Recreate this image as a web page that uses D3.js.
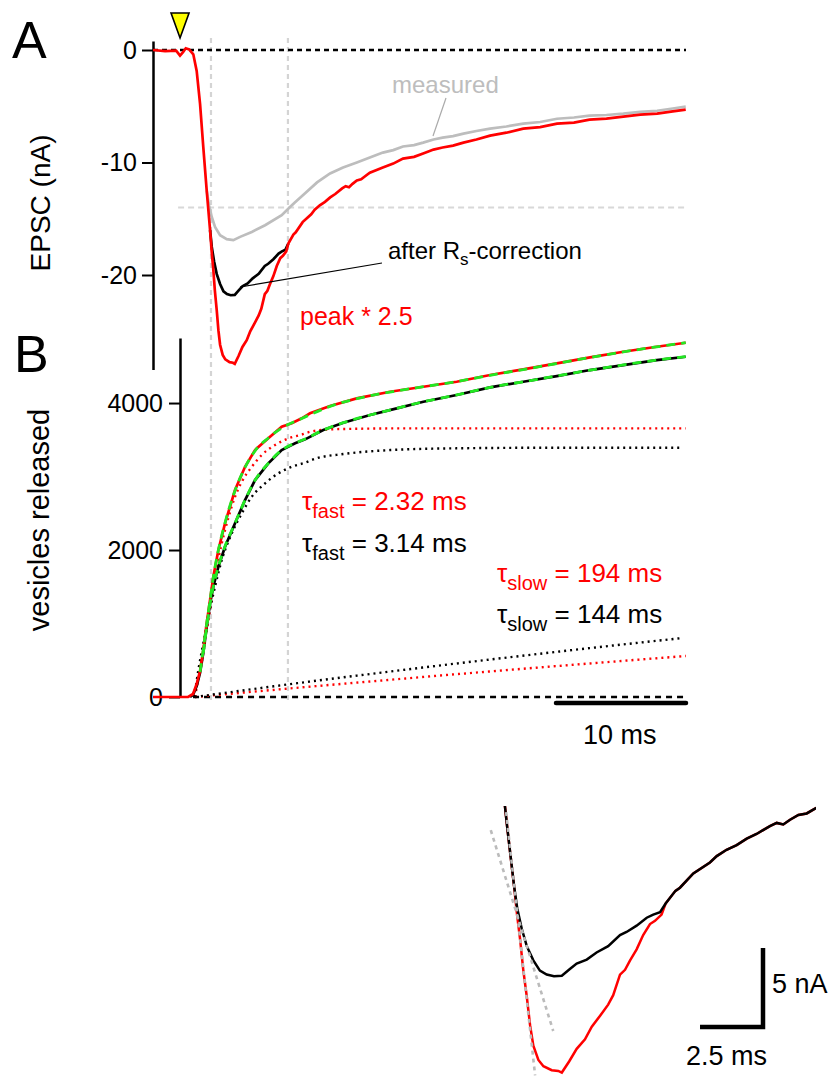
<!DOCTYPE html>
<html>
<head>
<meta charset="utf-8">
<script src="https://cdn.jsdelivr.net/npm/d3@7"></script>
<style>
  body { margin: 0; background: #fff; }
  svg text { font-family: "Liberation Sans", Arial, Helvetica, sans-serif; }
</style>
</head>
<body>
<svg id="fig" width="833" height="1079"></svg>
<script>
// ---- panel A: EPSC traces (time in ms from stimulus, current in nA)
const redTime = [-2.08, -1.15, -0.3, 0, 0.23, 0.44, 0.7, 1.02, 1.28, 1.54, 1.79, 2.05, 2.31, 2.44, 2.55, 2.68, 2.82, 2.95, 3.08, 3.28, 3.48, 3.81, 4.07, 4.21, 4.5, 4.8, 5.13, 5.4, 5.73, 6.05, 6.25, 6.52, 6.72, 6.92, 7.18, 7.44, 7.71, 7.91, 8.17, 8.33, 8.72, 8.9, 9.43, 10.09, 10.36, 10.75, 11.15, 11.55, 11.94, 12.47, 12.74, 13.0, 13.27, 13.6, 13.93, 14.26, 14.6, 15.6, 16.4, 17.15, 18.0, 18.7, 19.5, 20.2, 21.0, 21.8, 22.8, 23.85, 25.1, 26.4, 27.7, 29.0, 30.3, 31.5, 32.8, 34.1, 35.4, 36.7, 37.9, 38.9];
const redEPSC = [0, -0.1, -0.05, -0.5, -0.2, 0.15, 0.05, -0.38, -1.86, -4.78, -8.65, -12.48, -16.02, -18.0, -19.4, -21.4, -23.1, -24.9, -26.2, -27.1, -27.5, -27.75, -27.8, -27.9, -27.2, -26.4, -25.8, -25.0, -24.3, -23.6, -23.0, -21.7, -21.4, -20.8, -20.1, -19.2, -18.5, -18.3, -17.9, -17.2, -16.4, -16.2, -15.3, -14.6, -14.2, -13.8, -13.5, -13.1, -12.8, -12.3, -12.1, -12.2, -11.9, -11.6, -11.5, -11.2, -10.9, -10.44, -10.1, -9.65, -9.5, -9.2, -8.85, -8.67, -8.5, -8.23, -7.95, -7.61, -7.35, -6.99, -6.85, -6.55, -6.45, -6.19, -6.1, -5.93, -5.75, -5.66, -5.45, -5.3];

const grayTime = [2.05, 2.23, 2.44, 2.69, 3.08, 3.59, 4.1, 4.62, 5.52, 6.54, 7.82, 8.46, 8.85, 9.62, 10.54, 11.54, 12.54, 13.6, 14.6, 15.6, 16.4, 17.15, 18.0, 18.7, 19.5, 20.2, 21.0, 21.8, 22.8, 23.85, 25.1, 26.4, 27.7, 29.0, 30.3, 31.5, 32.8, 34.1, 35.4, 36.7, 37.9, 38.9];
const grayEPSC = [-12.48, -13.8, -14.84, -15.73, -16.46, -16.81, -16.9, -16.61, -16.17, -15.58, -14.69, -13.95, -13.54, -12.74, -11.77, -10.97, -10.44, -10.0, -9.56, -9.12, -8.9, -8.58, -8.45, -8.23, -7.95, -7.79, -7.65, -7.43, -7.2, -6.99, -6.8, -6.55, -6.4, -6.11, -6.0, -5.84, -5.78, -5.66, -5.5, -5.4, -5.2, -5.04];

const blackTime = [2.31, 2.44, 2.62, 2.82, 3.08, 3.34, 3.61, 3.9, 4.21, 4.53, 4.8, 5.2, 5.59, 6.05, 6.52, 6.78, 7.18, 7.58, 7.84, 8.11, 8.33];
const blackEPSC = [-16.02, -17.5, -18.8, -19.9, -20.8, -21.45, -21.7, -21.8, -21.77, -21.35, -21.0, -20.75, -20.3, -19.9, -19.2, -19.0, -18.6, -18.1, -17.9, -17.75, -17.2];

// ---- panel B: cumulative release (vesicles)
const relRedTime = [-2.08, 0.62, 1.0, 1.28, 1.54, 1.79, 2.05, 2.31, 2.56, 2.95, 3.46, 4.23, 5.0, 5.77, 6.79, 7.82, 8.59, 9.36, 10.0, 11.54, 13.59, 16.15, 18.72, 21.28, 23.85, 26.4, 28.98, 31.54, 34.1, 36.67, 38.9];
const relRed = [0, 0, 41, 177, 354, 639, 1003, 1320, 1637, 2000, 2363, 2816, 3133, 3361, 3520, 3677, 3724, 3792, 3860, 3959, 4064, 4154, 4222, 4290, 4381, 4458, 4540, 4622, 4698, 4766, 4820];

const relBlackTime = [0.77, 1.0, 1.28, 1.54, 1.79, 2.05, 2.31, 2.56, 2.95, 3.46, 4.23, 5.0, 5.77, 6.79, 7.82, 8.85, 9.62, 11.02, 12.56, 14.62, 16.67, 18.72, 21.28, 23.85, 26.4, 28.98, 31.54, 34.1, 36.67, 38.9];
const relBlack = [0, 30, 150, 330, 600, 950, 1275, 1500, 1773, 2045, 2363, 2680, 2952, 3179, 3361, 3452, 3506, 3633, 3732, 3837, 3928, 4018, 4109, 4213, 4290, 4367, 4449, 4517, 4585, 4630];

// double-exponential fits (green dashed)
const fitRedTime = [1.54, 1.79, 2.05, 2.31, 2.56, 2.95, 3.46, 4.23, 5.0, 5.77, 6.79, 7.82, 9.36, 11.54, 13.59, 16.15, 18.72, 21.28, 23.85, 26.4, 28.98, 31.54, 34.1, 36.67, 38.9];
const fitRed = [340, 650, 1000, 1320, 1630, 2000, 2370, 2810, 3125, 3350, 3525, 3660, 3790, 3955, 4060, 4150, 4222, 4292, 4378, 4456, 4538, 4620, 4696, 4765, 4822];
const fitBlackTime = [1.79, 2.05, 2.31, 2.56, 2.95, 3.46, 4.23, 5.0, 5.77, 6.79, 7.82, 8.85, 9.62, 11.02, 12.56, 14.62, 16.67, 18.72, 21.28, 23.85, 26.4, 28.98, 31.54, 34.1, 36.67, 38.9];
const fitBlack = [600, 950, 1270, 1500, 1775, 2050, 2365, 2680, 2950, 3180, 3360, 3455, 3510, 3632, 3733, 3837, 3928, 4018, 4110, 4212, 4290, 4368, 4448, 4518, 4586, 4632];

// fast and slow components (dotted)
const fastRedTime = [1.15, 1.41, 1.67, 2.05, 2.44, 2.82, 3.21, 3.72, 4.23, 4.75, 5.52, 6.28, 7.31, 8.33, 9.36, 10.0, 11.54, 13.59, 16.9, 38.9];
const fastRed = [0, 250, 480, 900, 1340, 1760, 2091, 2440, 2725, 2929, 3133, 3292, 3429, 3520, 3570, 3609, 3642, 3650, 3655, 3655];
const fastBlackTime = [1.1, 1.41, 1.79, 2.18, 2.69, 3.21, 3.98, 4.75, 5.52, 6.54, 7.56, 8.59, 9.62, 10.51, 12.56, 16.15, 21.28, 28.98, 38.46];
const fastBlack = [0, 367, 731, 1093, 1501, 1864, 2227, 2499, 2725, 2907, 3043, 3133, 3188, 3248, 3306, 3360, 3384, 3392, 3392];
const slowRedTime = [1.15, 8.46, 16.0, 23.85, 31.5, 38.92];
const slowRed = [0, 117, 232, 348, 456, 558];
const slowBlackTime = [1.15, 8.46, 16.0, 23.85, 31.5, 38.46];
const slowBlack = [0, 175, 343, 510, 665, 799];

// inset guide lines (ms, nA)
const guide1Time = [2.0, 3.15], guide1EPSC = [-11.41, -28.08];
const guide2Time = [1.39, 3.87], guide2EPSC = [-12.56, -25.27];

const markTimes = [2.38, 8.3];     // vertical gray guides
const thresholdEPSC = -14;          // horizontal gray guide
const ticksA = [0, -10, -20];
const ticksB = [0, 2000, 4000];

const font = '"Liberation Sans", Arial, Helvetica, sans-serif';
const svg = d3.select("#fig");

const x = d3.scaleLinear().domain([-2.08, 38.92]).range([153, 686]);
const yA = d3.scaleLinear().domain([0.8, -28.4]).range([41, 369.5]);
const yB = d3.scaleLinear().domain([0, 4885]).range([697, 338]);

const lineA = d3.line().x(d => x(d[0])).y(d => yA(d[1]));
const lineB = d3.line().x(d => x(d[0])).y(d => yB(d[1]));
const smoothB = d3.line().x(d => x(d[0])).y(d => yB(d[1])).curve(d3.curveMonotoneX);

// guides
svg.append("g").selectAll("line").data(markTimes).enter().append("line")
  .attr("x1", d => x(d)).attr("x2", d => x(d))
  .attr("y1", 38).attr("y2", 700)
  .attr("stroke", "#d4d4d4").attr("stroke-width", 2.2).attr("stroke-dasharray", "5,4");

svg.append("line")
  .attr("x1", x(-0.15)).attr("x2", x(38.92))
  .attr("y1", yA(thresholdEPSC)).attr("y2", yA(thresholdEPSC))
  .attr("stroke", "#d8d8d8").attr("stroke-width", 2.2).attr("stroke-dasharray", "6,4");

svg.append("line")
  .attr("x1", x(-2.08)).attr("x2", x(38.92))
  .attr("y1", yA(0)).attr("y2", yA(0))
  .attr("stroke", "#000").attr("stroke-width", 2.3).attr("stroke-dasharray", "5,4");

svg.append("line")
  .attr("x1", x(1.0)).attr("x2", x(38.92))
  .attr("y1", yB(0)).attr("y2", yB(0))
  .attr("stroke", "#000").attr("stroke-width", 2.3).attr("stroke-dasharray", "6,5");

// axes
function styleAxis(g) {
  g.select(".domain").attr("stroke-width", 2.5);
  g.selectAll(".tick line").attr("stroke-width", 2);
  g.selectAll(".tick text").attr("font-size", 25).attr("font-family", font).attr("fill", "#000");
}
svg.append("g").attr("transform", "translate(153,0)")
  .call(d3.axisLeft(yA).tickValues(ticksA).tickSize(11).tickSizeOuter(0).tickPadding(5).tickFormat(d => String(d)))
  .call(styleAxis);
svg.append("g").attr("transform", "translate(180,0)")
  .call(d3.axisLeft(yB).tickValues(ticksB).tickSize(11).tickSizeOuter(0).tickPadding(6).tickFormat(d => String(d)))
  .call(styleAxis);

// panel A traces
svg.append("path").datum(d3.zip(grayTime, grayEPSC)).attr("d", lineA)
  .attr("fill", "none").attr("stroke", "#bdbdbd").attr("stroke-width", 2.7);
svg.append("path").datum(d3.zip(blackTime, blackEPSC)).attr("d", lineA)
  .attr("fill", "none").attr("stroke", "#000").attr("stroke-width", 2.7);
svg.append("path").datum(d3.zip(redTime, redEPSC)).attr("d", lineA)
  .attr("fill", "none").attr("stroke", "#ff0000").attr("stroke-width", 2.7);

// panel B components
const dotted = [
  [fastRedTime, fastRed, "#ff0000"], [fastBlackTime, fastBlack, "#000"],
  [slowRedTime, slowRed, "#ff0000"], [slowBlackTime, slowBlack, "#000"]
];
dotted.forEach(([t, v, c]) => {
  svg.append("path").datum(d3.zip(t, v)).attr("d", smoothB)
    .attr("fill", "none").attr("stroke", c).attr("stroke-width", 2.4)
    .attr("stroke-dasharray", "2,4");
});
svg.append("path").datum(d3.zip(relBlackTime, relBlack)).attr("d", lineB)
  .attr("fill", "none").attr("stroke", "#000").attr("stroke-width", 2.7);
svg.append("path").datum(d3.zip(relRedTime, relRed)).attr("d", lineB)
  .attr("fill", "none").attr("stroke", "#ff0000").attr("stroke-width", 2.7);
[[fitRedTime, fitRed], [fitBlackTime, fitBlack]].forEach(([t, v]) => {
  svg.append("path").datum(d3.zip(t, v)).attr("d", smoothB)
    .attr("fill", "none").attr("stroke", "#22e822").attr("stroke-width", 2.8)
    .attr("stroke-dasharray", "9,6");
});

// stimulus marker
const sx = x(0);
svg.append("path")
  .attr("d", `M${sx - 9},13 L${sx + 9},13 L${sx},38 Z`)
  .attr("fill", "#ffff00").attr("stroke", "#000").attr("stroke-width", 1.6)
  .attr("stroke-linejoin", "miter");

// 10 ms scale bar
svg.append("line")
  .attr("x1", x(28.92)).attr("x2", x(38.92)).attr("y1", 703).attr("y2", 703)
  .attr("stroke", "#000").attr("stroke-width", 4.5).attr("stroke-linecap", "round");
svg.append("text").attr("x", 583).attr("y", 744).attr("font-size", 27).text("10 ms");

// labels
svg.append("text").attr("x", 12).attr("y", 58).attr("font-size", 52).text("A");
svg.append("text").attr("x", 14).attr("y", 372).attr("font-size", 52).text("B");
svg.append("text").attr("transform", "translate(50,203) rotate(-90)")
  .attr("text-anchor", "middle").attr("font-size", 28).text("EPSC (nA)");
svg.append("text").attr("transform", "translate(49,520) rotate(-90)")
  .attr("text-anchor", "middle").attr("font-size", 29).text("vesicles released");

// annotations A
svg.append("line").attr("x1", 446).attr("y1", 98).attr("x2", 433).attr("y2", 136)
  .attr("stroke", "#aaa").attr("stroke-width", 1.2);
svg.append("text").attr("x", 392).attr("y", 93).attr("font-size", 24).attr("fill", "#bdbdbd").text("measured");
svg.append("line").attr("x1", 382).attr("y1", 263).attr("x2", 240).attr("y2", 287)
  .attr("stroke", "#000").attr("stroke-width", 1.2);
const rs = svg.append("text").attr("x", 388).attr("y", 259).attr("font-size", 24);
rs.append("tspan").text("after R");
rs.append("tspan").attr("dy", 6).attr("font-size", 17).text("s");
rs.append("tspan").attr("dy", -6).text("-correction");
svg.append("text").attr("x", 300).attr("y", 325).attr("font-size", 25).attr("fill", "#ff0000").text("peak * 2.5");

// tau annotations B
function tauLabel(xp, yp, sub, rest, color) {
  const t = svg.append("text").attr("x", xp).attr("y", yp).attr("font-size", 26).attr("fill", color);
  t.append("tspan").text("τ");
  t.append("tspan").attr("dy", 8).attr("font-size", 20).text(sub);
  t.append("tspan").attr("dy", -8).text(rest);
}
tauLabel(302, 510, "fast", " = 2.32 ms", "#ff0000");
tauLabel(302, 552, "fast", " = 3.14 ms", "#000");
tauLabel(497, 582, "slow", " = 194 ms", "#ff0000");
tauLabel(497, 623, "slow", " = 144 ms", "#000");

// ---- inset: enlarged peak region
const ix = d3.scaleLinear().domain([3.9, 14.26]).range([554, 815]);
const iy = d3.scaleLinear().domain([-21.77, -11.2]).range([975.7, 808.7]);
const lineI = d3.line().x(d => ix(d[0])).y(d => iy(d[1]));

svg.append("clipPath").attr("id", "insetClip").append("rect")
  .attr("x", 470).attr("y", 806).attr("width", 346).attr("height", 273);

const redPts = d3.zip(redTime, redEPSC);
const blackFull = redPts.filter(d => d[0] < 2.31)
  .concat(d3.zip(blackTime, blackEPSC))
  .concat(redPts.filter(d => d[0] > 8.33));

const inset = svg.append("g").attr("clip-path", "url(#insetClip)");
inset.append("path").datum(redPts).attr("d", lineI)
  .attr("fill", "none").attr("stroke", "#ff0000").attr("stroke-width", 2.5);
inset.append("path").datum(blackFull).attr("d", lineI)
  .attr("fill", "none").attr("stroke", "#000").attr("stroke-width", 2.5);

[[guide1Time, guide1EPSC], [guide2Time, guide2EPSC]].forEach(([t, v]) => {
  svg.append("path").datum(d3.zip(t, v)).attr("d", lineI)
    .attr("fill", "none").attr("stroke", "#bbb").attr("stroke-width", 2.6)
    .attr("stroke-dasharray", "4,4");
});

// inset scale bars (5 nA, 2.5 ms)
const cx = 763, cy = 1027;
const barH = ix(2.5) - ix(0), barV = iy(-21.77) - iy(-16.77);
svg.append("path")
  .attr("d", `M${cx - barH},${cy} L${cx},${cy} L${cx},${cy - barV}`)
  .attr("fill", "none").attr("stroke", "#000").attr("stroke-width", 4.5)
  .attr("stroke-linejoin", "miter");
svg.append("text").attr("x", 772).attr("y", 993).attr("font-size", 27).text("5 nA");
svg.append("text").attr("x", 686).attr("y", 1065).attr("font-size", 27).text("2.5 ms");
</script>
</body>
</html>
